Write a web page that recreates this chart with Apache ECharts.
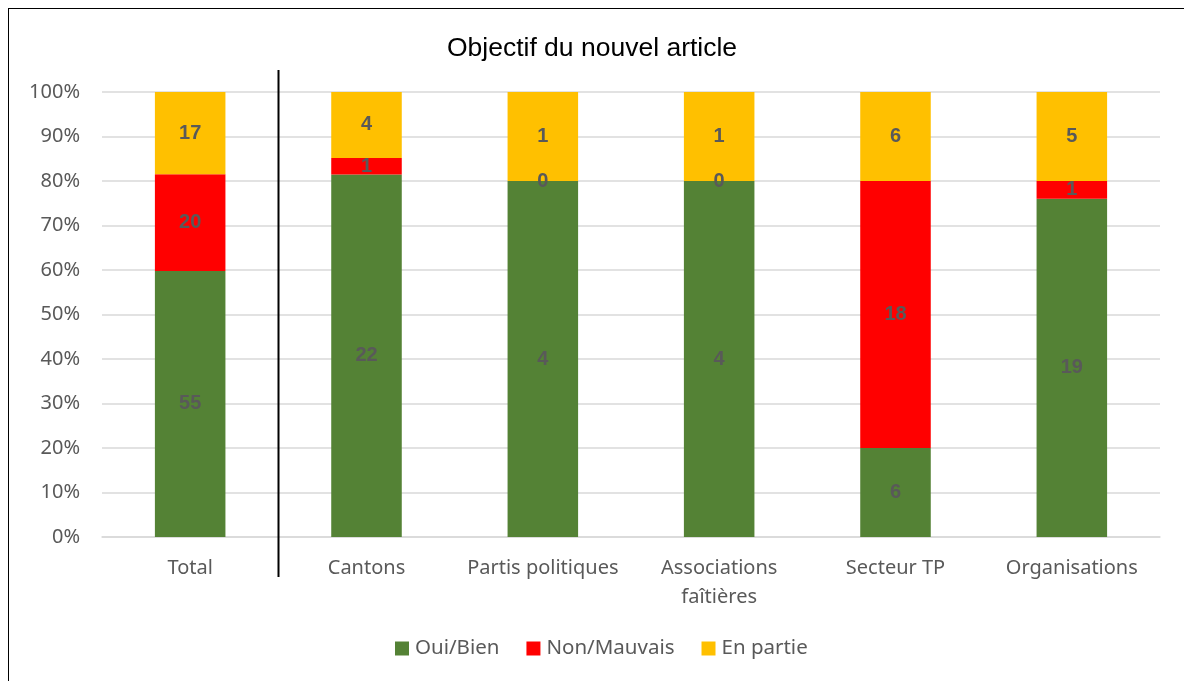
<!DOCTYPE html>
<html><head><meta charset="utf-8">
<script src="https://cdn.jsdelivr.net/npm/echarts@6/dist/echarts.min.js"></script>
<style>
html,body{margin:0;padding:0;background:#fff;}
#frame{position:absolute;left:8px;top:8px;width:1200px;height:700px;border:1.5px solid #000;box-sizing:border-box;}
#c{position:absolute;left:0;top:0;width:1184px;height:681px;}
</style></head>
<body>
<div id="frame"></div>
<div id="c"></div>
<script>
const categories = ['Total', 'Cantons', 'Partis politiques', 'Associations\nfaîtières', 'Secteur TP', 'Organisations'];
const ouiBien = [55, 22, 4, 4, 6, 19];
const nonMauvais = [20, 1, 0, 0, 18, 1];
const enPartie = [17, 4, 1, 1, 6, 5];
const yTicks = [0, 10, 20, 30, 40, 50, 60, 70, 80, 90, 100];

const totals = categories.map((_, i) => ouiBien[i] + nonMauvais[i] + enPartie[i]);
const pct = arr => arr.map((v, i) => ({ value: v / totals[i] * 100, raw: v }));

const chart = echarts.init(document.getElementById('c'), null, { renderer: 'canvas' });
const lbl = {
  show: true, position: 'inside', color: '#595959', fontWeight: 'bold',
  fontSize: 20, fontFamily: 'Liberation Sans, Arial, sans-serif',
  formatter: p => String(p.data.raw)
};
const mk = (name, arr, color) => ({
  name, type: 'bar', stack: 's', barWidth: '40%',
  data: pct(arr), itemStyle: { color }, label: lbl,
  labelLayout: { hideOverlap: false }
});
chart.setOption({
  animation: false,
  title: {
    text: 'Objectif du nouvel article', left: 'center', top: 30,
    textStyle: { fontFamily: 'Liberation Sans, Arial, sans-serif', fontSize: 26.5, fontWeight: 'normal', color: '#000' }
  },
  legend: {
    bottom: 17, left: 390, itemWidth: 14, itemHeight: 14, itemGap: 27,
    icon: 'rect',
    textStyle: { fontFamily: 'Noto Sans, Open Sans, sans-serif', fontSize: 20.5, color: '#595959', padding: [0, 0, 0, 1] },
    data: ['Oui/Bien', 'Non/Mauvais', 'En partie']
  },
  grid: { left: 102, right: 24, top: 92, bottom: 144, containLabel: false },
  xAxis: {
    type: 'category', data: categories,
    axisLine: { show: true, lineStyle: { color: '#d9d9d9', width: 1.5 } },
    axisTick: { show: false },
    axisLabel: { fontFamily: 'Noto Sans, Open Sans, sans-serif', fontSize: 20, color: '#595959', margin: 17, lineHeight: 29, interval: 0 }
  },
  yAxis: {
    type: 'value', min: 0, max: 100, interval: 10,
    axisLine: { show: false }, axisTick: { show: false },
    splitLine: { lineStyle: { color: '#d9d9d9', width: 1.5 } },
    axisLabel: {
      fontFamily: 'Noto Sans, Open Sans, sans-serif', fontSize: 20, color: '#595959', margin: 22,
      formatter: v => yTicks.includes(v) ? v + '%' : ''
    }
  },
  series: [
    mk('Oui/Bien', ouiBien, '#548235'),
    mk('Non/Mauvais', nonMauvais, '#FF0000'),
    mk('En partie', enPartie, '#FFC000')
  ]
});
// separator between Total and the rest
const p0 = chart.convertToPixel({ xAxisIndex: 0 }, 0);
const p1 = chart.convertToPixel({ xAxisIndex: 0 }, 1);
const sx = Math.round((p0 + p1) / 2) + 0.5;
const yTop = chart.convertToPixel({ yAxisIndex: 0 }, 100);
const yBot = chart.convertToPixel({ yAxisIndex: 0 }, 0);
chart.setOption({
  graphic: [{
    type: 'line', z: 100,
    shape: { x1: sx, y1: yTop - 22, x2: sx, y2: yBot + 40 },
    style: { stroke: '#000', lineWidth: 2 }
  }]
});
</script>
</body></html>
